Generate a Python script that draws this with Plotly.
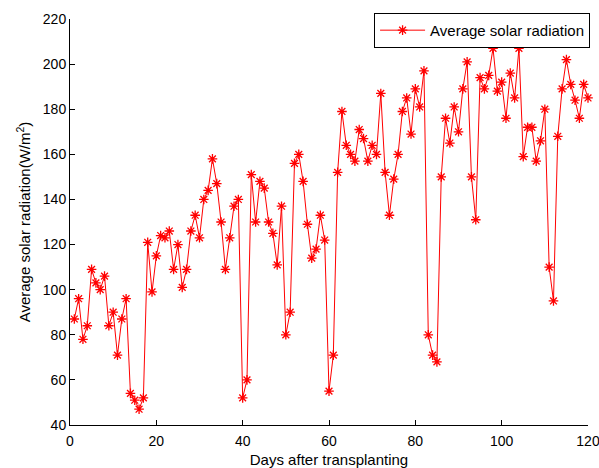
import plotly.graph_objects as go

# Daily mean solar radiation after transplanting
days = list(range(1, 121))
radiation = [
    87, 96, 78, 84, 109, 103, 100, 106, 84, 90,
    71, 87, 96, 54, 51, 47, 52, 121, 99, 115,
    124, 123, 126, 109, 120, 101, 109, 126, 133, 123,
    140, 144, 158, 147, 130, 109, 123, 137, 140, 52,
    60, 151, 130, 148, 145, 130, 125, 111, 137, 80,
    90, 156, 160, 148, 129, 114, 118, 133, 122, 55,
    71, 152, 179, 164, 160, 157, 171, 167, 157, 164,
    160, 187, 152, 133, 149, 160, 179, 185, 169, 189,
    181, 197, 80, 71, 68, 150, 176, 165, 181, 170,
    189, 201, 150, 131, 194, 189, 195, 207, 188, 192,
    176, 196, 185, 207, 159, 172, 172, 157, 166, 180,
    110, 95, 168, 189, 202, 191, 184, 176, 191, 185,
]
x_ticks = [0, 20, 40, 60, 80, 100, 120]
y_ticks = [40, 60, 80, 100, 120, 140, 160, 180, 200, 220]

FONT = "Liberation Sans, Arial, sans-serif"

fig = go.Figure()
fig.add_trace(go.Scatter(
    x=days,
    y=radiation,
    mode="lines+markers",
    name="Average solar radiation",
    cliponaxis=False,
    line=dict(color="#ff0000", width=1),
    marker=dict(symbol="asterisk-open", size=8, color="#ff0000",
                line=dict(color="#ff0000", width=1.3)),
))

fig.update_layout(
    width=599,
    height=468,
    margin=dict(l=70, r=11, t=19, b=43, autoexpand=False),
    paper_bgcolor="white",
    plot_bgcolor="white",
    font=dict(family=FONT, size=14, color="black"),
    showlegend=True,
    legend=dict(
        x=1.004, y=1.015, xanchor="right", yanchor="top",
        bordercolor="black", borderwidth=1, bgcolor="white",
        font=dict(family=FONT, size=15, color="black"),
        itemwidth=45,
    ),
    xaxis=dict(
        range=[0, 120],
        tickvals=x_ticks,
        ticks="inside", ticklen=5, tickcolor="black",
        showline=True, linecolor="black", linewidth=1,
        showgrid=False, zeroline=False,
        automargin=False,
        ticklabelstandoff=3,
        ticklabeloverflow="allow",
        title=dict(text="Days after transplanting", standoff=10,
                   font=dict(size=15)),
        tickfont=dict(size=14),
    ),
    yaxis=dict(
        range=[40, 220],
        tickvals=y_ticks,
        ticks="inside", ticklen=5, tickcolor="black",
        showline=True, linecolor="black", linewidth=1,
        showgrid=False, zeroline=False,
        automargin=False,
        ticklabeloverflow="allow",
        title=dict(text="Average solar radiation(W/m<sup>2</sup>)", standoff=8,
                   font=dict(size=15)),
        tickfont=dict(size=14),
    ),
)

fig.write_html("out.html")
